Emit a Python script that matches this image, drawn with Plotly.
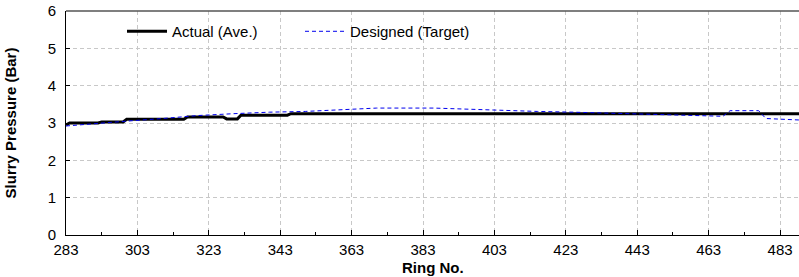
import plotly.graph_objects as go

# Actual (average) slurry pressure breakpoints
actual_ring = [283, 284, 292, 293, 299, 300, 316, 317, 327, 328, 331, 332, 345, 346, 488.5]
actual_val = [2.95, 3.0, 3.0, 3.03, 3.03, 3.1, 3.1, 3.16, 3.16, 3.11, 3.11, 3.21, 3.21, 3.25, 3.25]

# Designed (target) slurry pressure
design_ring = [283, 290, 300, 310, 320, 330, 340, 350, 360, 370, 386, 395, 405, 415, 425, 435,
               445, 455, 463, 467, 469, 477, 479, 488.5]
design_val = [2.92, 2.98, 3.05, 3.12, 3.2, 3.25, 3.29, 3.31, 3.35, 3.4, 3.4, 3.37, 3.34, 3.31,
              3.29, 3.26, 3.24, 3.21, 3.18, 3.18, 3.33, 3.33, 3.12, 3.08]

x_ticks = [283, 303, 323, 343, 363, 383, 403, 423, 443, 463, 483]
y_ticks = [0, 1, 2, 3, 4, 5, 6]

FONT = "Arial, Liberation Sans, sans-serif"

fig = go.Figure()
fig.add_trace(go.Scatter(x=actual_ring, y=actual_val, mode="lines", name="Actual (Ave.)",
                         line=dict(color="black", width=3)))
fig.add_trace(go.Scatter(x=design_ring, y=design_val, mode="lines", name="Designed (Target)",
                         line=dict(color="#0000ee", width=1, dash="4px,3px")))

fig.update_layout(
    width=799, height=277,
    margin=dict(l=66, r=0, t=11, b=42, autoexpand=False),
    paper_bgcolor="white", plot_bgcolor="white",
    font=dict(family=FONT, size=15, color="black"),
    showlegend=True,
    legend=dict(orientation="h", x=0.0764, y=0.982, xanchor="left", yanchor="top",
                bgcolor="rgba(0,0,0,0)", font=dict(size=15),
                entrywidth=123, entrywidthmode="pixels", itemwidth=40),
)
fig.update_xaxes(
    range=[283, 488.3], tickvals=x_ticks, ticktext=[str(v) for v in x_ticks],
    showgrid=True, gridcolor="#c8c8c8", griddash="4px,3px", gridwidth=1,
    showline=True, linecolor="black", linewidth=1, mirror=False,
    ticks="inside", ticklen=5, tickcolor="black",
    minor=dict(tickvals=[293 + 20 * i for i in range(10)], ticks="inside", ticklen=3,
               tickcolor="black", showgrid=False),
    zeroline=False, automargin=False, ticklabelstandoff=1,
)
fig.update_yaxes(
    range=[0, 6], tickvals=y_ticks,
    showgrid=True, gridcolor="#c8c8c8", griddash="4px,3px", gridwidth=1,
    showline=True, linecolor="black", linewidth=1,
    ticks="inside", ticklen=4, tickcolor="black",
    title=dict(text="<b>Slurry Pressure (Bar)</b>", font=dict(size=15), standoff=27),
    zeroline=False, automargin=False, ticklabelstandoff=6,
)
# x-axis title placed as annotation for precise positioning
fig.add_annotation(text="<b>Ring No.</b>", xref="paper", yref="paper", x=0.5, y=-0.147,
                   xanchor="center", yanchor="middle", showarrow=False, font=dict(size=15))
# top border line
fig.add_shape(type="line", xref="paper", yref="paper", x0=0, x1=1, y0=1, y1=1,
              line=dict(color="#555555", width=1.5))

fig.write_html("out.html", config={"displayModeBar": False},
               post_script="document.body.style.margin='0';")
